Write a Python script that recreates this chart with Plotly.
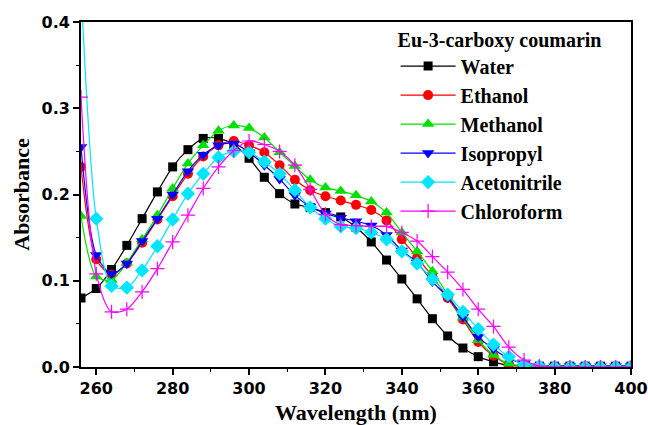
import plotly.graph_objects as go

wavelength = list(range(256, 401, 4))

water = [0.080, 0.091, 0.113, 0.141, 0.172, 0.203, 0.232, 0.252, 0.265, 0.265,
         0.258, 0.242, 0.220, 0.201, 0.189, 0.185, 0.179, 0.174, 0.162, 0.145,
         0.124, 0.102, 0.079, 0.056, 0.036, 0.022, 0.012, 0.006, 0.002, 0.001,
         0.001, 0.001, 0.001, 0.001, 0.001, 0.001, 0.001]
ethanol = [0.232, 0.125, 0.107, 0.120, 0.144, 0.171, 0.198, 0.224, 0.244, 0.257,
           0.262, 0.257, 0.249, 0.234, 0.217, 0.205, 0.198, 0.193, 0.188, 0.182,
           0.170, 0.148, 0.127, 0.105, 0.080, 0.055, 0.029, 0.013, 0.003, 0.001,
           0.000, 0.000, 0.000, 0.000, 0.000, 0.000, 0.000]
methanol = [0.175, 0.105, 0.101, 0.121, 0.148, 0.176, 0.207, 0.236, 0.257, 0.274,
            0.280, 0.277, 0.266, 0.249, 0.233, 0.217, 0.208, 0.204, 0.199, 0.192,
            0.179, 0.156, 0.134, 0.111, 0.084, 0.057, 0.031, 0.014, 0.004, 0.001,
            0.000, 0.000, 0.000, 0.000, 0.000, 0.000, 0.000]
isopropyl = [0.255, 0.130, 0.108, 0.120, 0.146, 0.172, 0.200, 0.227, 0.246, 0.257,
             0.259, 0.249, 0.234, 0.218, 0.199, 0.186, 0.178, 0.173, 0.169, 0.164,
             0.153, 0.135, 0.121, 0.099, 0.081, 0.058, 0.035, 0.021, 0.010, 0.004,
             0.001, 0.001, 0.001, 0.001, 0.001, 0.001, 0.001]
acetonitrile = [0.440, 0.172, 0.094, 0.092, 0.112, 0.140, 0.171, 0.201, 0.224, 0.243,
                0.250, 0.249, 0.238, 0.224, 0.205, 0.185, 0.172, 0.163, 0.161, 0.156,
                0.148, 0.134, 0.120, 0.102, 0.084, 0.064, 0.044, 0.026, 0.012, 0.003,
                0.001, 0.000, 0.000, 0.000, 0.000, 0.000, 0.000]
chloroform = [0.313, 0.108, 0.064, 0.067, 0.087, 0.114, 0.145, 0.176, 0.207, 0.232,
              0.251, 0.262, 0.258, 0.250, 0.234, 0.206, 0.177, 0.165, 0.164, 0.163,
              0.163, 0.156, 0.146, 0.128, 0.110, 0.090, 0.067, 0.047, 0.023, 0.008,
              0.001, 0.000, 0.000, 0.000, 0.000, 0.000, 0.000]

series = [
    ("Water", water, "#000000", "square", 9),
    ("Ethanol", ethanol, "#ff0000", "circle", 10),
    ("Methanol", methanol, "#00e000", "triangle-up", 11),
    ("Isopropyl", isopropyl, "#0000ff", "triangle-down", 11),
    ("Acetonitrile", acetonitrile, "#00e5ff", "diamond", 11),
    ("Chloroform", chloroform, "#ff00ff", "cross-thin", 10),
]

fig = go.Figure()
for name, vals, color, sym, size in series:
    marker = dict(symbol=sym, size=size, color=color)
    if sym == "cross-thin":
        marker["line"] = dict(color=color, width=1.2)
    fig.add_trace(go.Scatter(
        x=wavelength, y=vals, name=name, mode="lines+markers",
        line=dict(color=color, width=1.2, shape="spline", smoothing=0.8),
        marker=marker, cliponaxis=True,
    ))

tick_font = dict(family="DejaVu Sans", size=16, color="black", weight="bold")
title_font = dict(family="Liberation Serif", size=22, color="black", weight="bold")
legend_font = dict(family="Liberation Serif", size=20, color="black", weight="bold")

fig.update_layout(
    width=648, height=425,
    margin=dict(l=81, r=17, t=22, b=58),
    paper_bgcolor="white", plot_bgcolor="white",
    showlegend=True,
    legend=dict(
        x=0.572, y=1.004, xanchor="left", yanchor="top",
        bgcolor="rgba(0,0,0,0)", borderwidth=0,
        font=legend_font,
        title=dict(text="Eu-3-carboxy coumarin", font=legend_font),
        itemwidth=55, tracegroupgap=0,
    ),
    annotations=[dict(
        text="Wavelength (nm)", xref="paper", yref="paper", x=0.5, y=0,
        xanchor="center", yanchor="middle", yshift=-45, showarrow=False,
        font=title_font,
    )],
)
fig.update_xaxes(
    range=[256, 400], tickmode="array", tickvals=[260, 280, 300, 320, 340, 360, 380, 400],
    ticks="outside", ticklen=6, tickwidth=1.5, tickcolor="black",
    minor=dict(ticks="outside", ticklen=3, tickwidth=1.2, tickcolor="black", dtick=10),
    showline=True, linecolor="black", linewidth=1.8, mirror=True,
    showgrid=False, zeroline=False, tickfont=tick_font, automargin=False,
)
fig.update_yaxes(
    range=[0, 0.4], dtick=0.1, tickformat=".1f",
    ticks="outside", ticklen=6, tickwidth=1.5, tickcolor="black",
    minor=dict(ticks="outside", ticklen=3, tickwidth=1.2, tickcolor="black", dtick=0.05),
    showline=True, linecolor="black", linewidth=1.8, mirror=True,
    showgrid=False, zeroline=False, tickfont=tick_font, automargin=False,
    title=dict(text="Absorbance", font=title_font, standoff=6),
)

fig.write_html("out.html")
